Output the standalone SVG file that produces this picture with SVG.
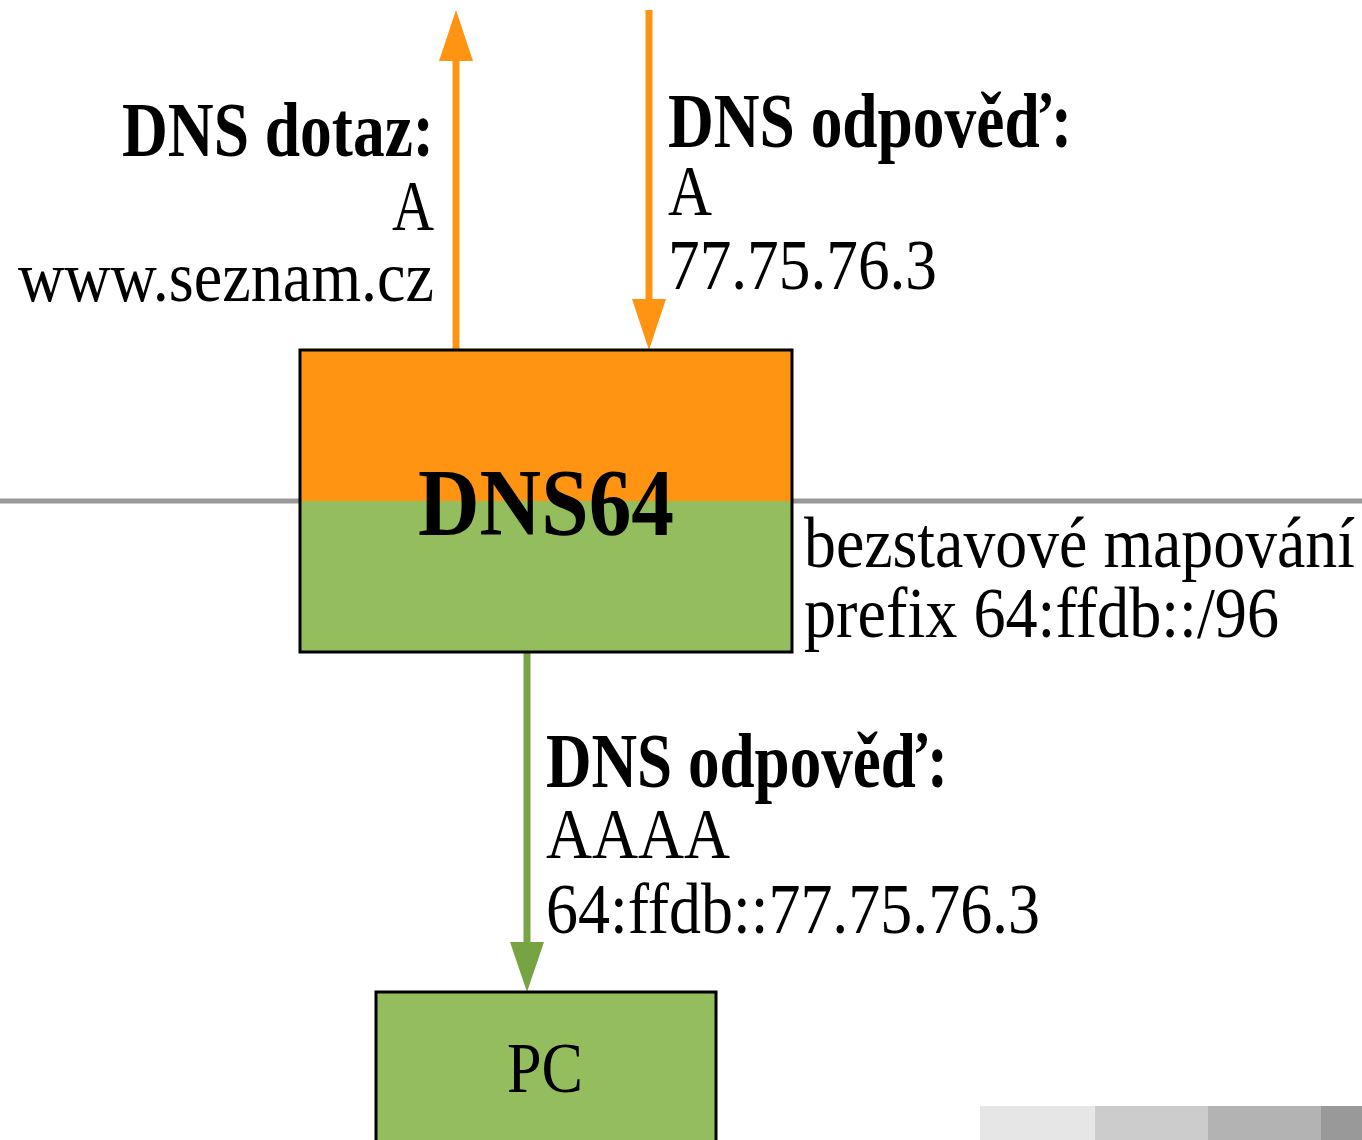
<svg xmlns="http://www.w3.org/2000/svg" width="1362" height="1140" viewBox="0 0 1362 1140">
  <style>
    text { font-family: "Liberation Serif", "Times New Roman", serif; fill: #000; }
    .lbl { font-size: 71px; }
    .hd { font-size: 79px; font-weight: bold; }
    .big { font-size: 95px; font-weight: bold; }
    .box { stroke: #000; stroke-width: 3; }
  </style>

  <!-- network boundary -->
  <line x1="0" y1="501" x2="1362" y2="501" stroke="#999999" stroke-width="5"/>

  <!-- shade strip -->
  <g id="shade">
    <rect x="980" y="1106" width="115" height="34" fill="#e6e6e6"/>
    <rect x="1095" y="1106" width="113" height="34" fill="#cccccc"/>
    <rect x="1208" y="1106" width="113" height="34" fill="#b3b3b3"/>
    <rect x="1321" y="1106" width="41" height="34" fill="#999999"/>
  </g>

  <g id="connectors">
    <!-- query upward -->
    <line x1="456" y1="350" x2="456" y2="60" stroke="#ff9412" stroke-width="7"/>
    <path d="M439,61 L473,61 L456,10 Z" fill="#ff9412"/>
    <!-- answer downward -->
    <line x1="649" y1="10" x2="649" y2="300" stroke="#ff9412" stroke-width="7"/>
    <path d="M632,299 L666,299 L649,350 Z" fill="#ff9412"/>
    <!-- synthesized answer to PC -->
    <line x1="527" y1="652" x2="527" y2="943" stroke="#79a544" stroke-width="7"/>
    <path d="M510,942 L544,942 L527,992 Z" fill="#77a443"/>
  </g>

  <g id="dns64">
    <rect x="300" y="350" width="492" height="151" fill="#ff9412"/>
    <rect x="300" y="501" width="492" height="151" fill="#94bd5e"/>
    <rect x="300" y="350" width="492" height="302" fill="none" class="box"/>
    <text class="big" x="546" y="535" text-anchor="middle" textLength="256" lengthAdjust="spacingAndGlyphs">DNS64</text>
  </g>

  <g id="pc">
    <rect x="376" y="992" width="340" height="160" fill="#94bd5e" class="box"/>
    <text class="lbl" x="507" y="1092" textLength="76" lengthAdjust="spacingAndGlyphs">PC</text>
  </g>

  <g id="query-label">
    <text class="hd" x="434" y="156" text-anchor="end" textLength="312" lengthAdjust="spacingAndGlyphs">DNS dotaz:</text>
    <text class="lbl" x="434" y="230" text-anchor="end" textLength="42" lengthAdjust="spacingAndGlyphs">A</text>
    <text class="lbl" x="434" y="301" text-anchor="end" textLength="416" lengthAdjust="spacingAndGlyphs">www.seznam.cz</text>
  </g>

  <g id="answer-label">
    <text class="hd" x="668" y="147" textLength="404" lengthAdjust="spacingAndGlyphs">DNS odpověď:</text>
    <text class="lbl" x="668" y="215" textLength="44" lengthAdjust="spacingAndGlyphs">A</text>
    <text class="lbl" x="668" y="289" textLength="269" lengthAdjust="spacingAndGlyphs">77.75.76.3</text>
  </g>

  <g id="mapping-label">
    <text class="lbl" x="804" y="567" textLength="551" lengthAdjust="spacingAndGlyphs">bezstavové mapování</text>
    <text class="lbl" x="804" y="637" textLength="475" lengthAdjust="spacingAndGlyphs">prefix 64:ffdb::/96</text>
  </g>

  <g id="aaaa-label">
    <text class="hd" x="546" y="787" textLength="402" lengthAdjust="spacingAndGlyphs">DNS odpověď:</text>
    <text class="lbl" x="546" y="858" textLength="184" lengthAdjust="spacingAndGlyphs">AAAA</text>
    <text class="lbl" x="546" y="933" textLength="494" lengthAdjust="spacingAndGlyphs">64:ffdb::77.75.76.3</text>
  </g>
</svg>
